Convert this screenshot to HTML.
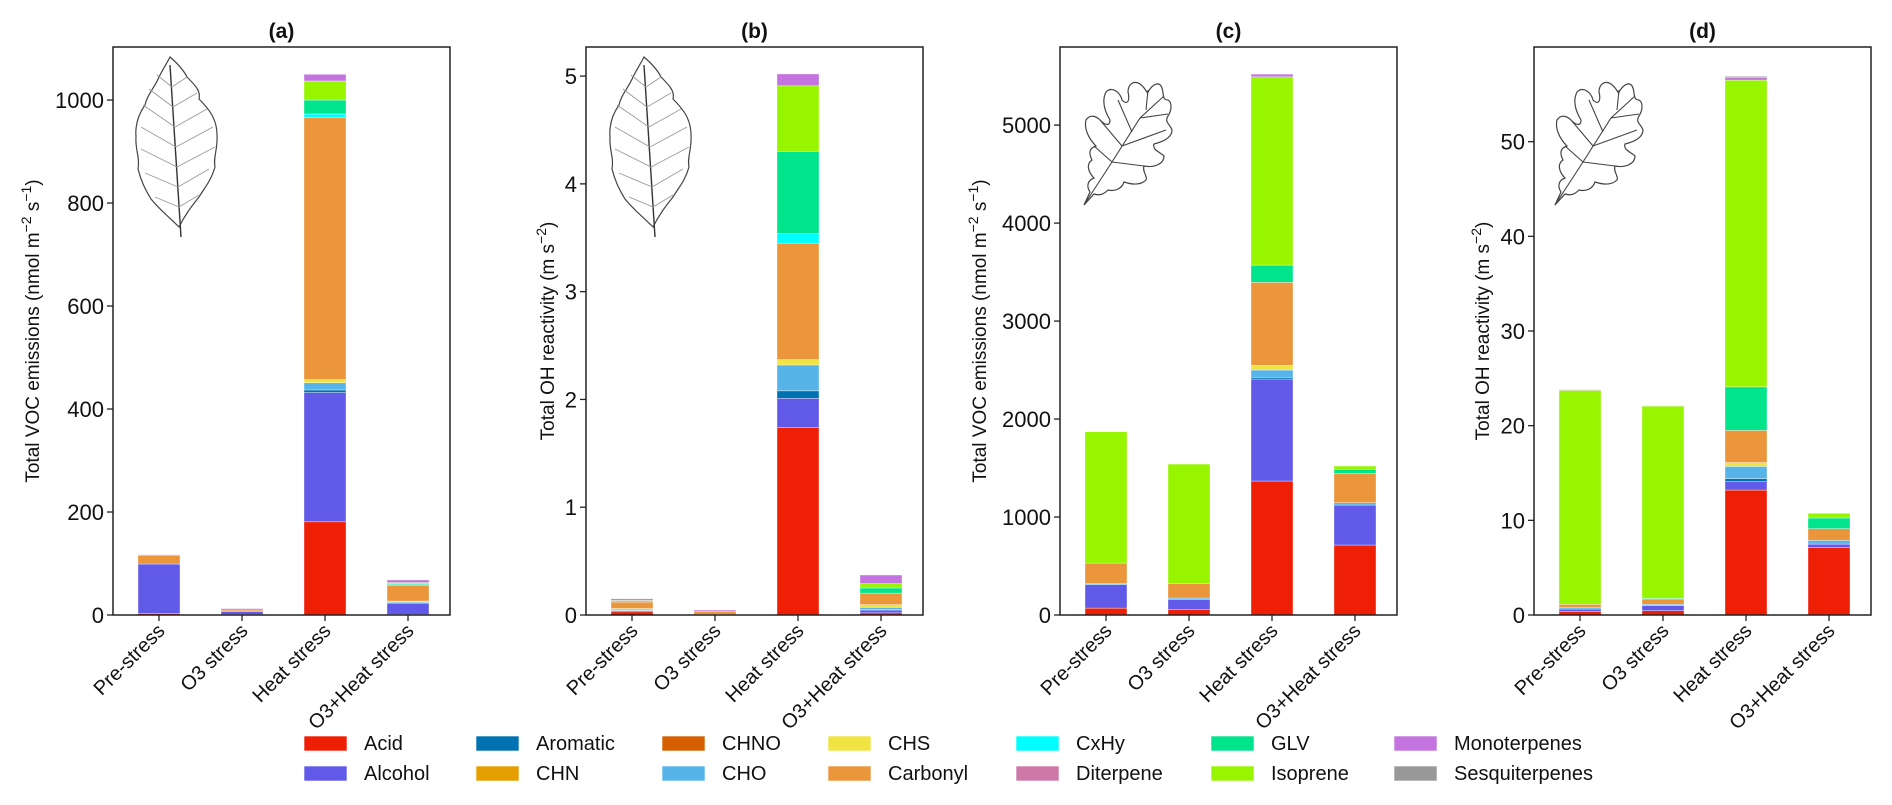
<!DOCTYPE html>
<html><head><meta charset="utf-8"><style>
html,body{margin:0;padding:0;background:#fff;}
svg{display:block;font-family:"Liberation Sans",Arial,sans-serif;}
</style></head><body>
<svg id="fig" width="1892" height="805" viewBox="0 0 1892 805" xmlns="http://www.w3.org/2000/svg">
<defs>
<g id="beech">
<path d="M35,0 C42,6 48,12 52,20 C60,28 66,34 64,42 C74,52 82,62 82,78 C83,92 78,100 80,110 C76,124 70,130 64,140 C56,150 50,158 44,170 C34,160 24,152 16,142 C10,132 6,124 3,112 C5,100 0,92 1,80 C0,68 3,58 10,48 C12,38 20,30 24,20 C28,12 32,6 35,0 Z" fill="none" stroke="#444" stroke-width="1.2"/>
<path d="M35,8 C38,50 42,110 46,180" fill="none" stroke="#333" stroke-width="1.4"/>
<path d="M37,30 L22,18 M37,30 L52,20 M38,50 L14,32 M38,50 L62,36 M40,70 L8,48 M40,70 L72,52 M41,90 L6,70 M41,90 L78,70 M42,110 L6,92 M42,110 L80,90 M43,130 L10,116 M43,130 L74,112 M44,150 L20,140 M44,150 L64,138" stroke="#999" stroke-width="0.9" fill="none"/>
</g>
<g id="oak">
<path d="M2,125 L8,112 C4,106 6,100 12,98 C6,92 4,84 10,80 C6,72 8,68 14,66 C6,58 2,48 4,40 C8,34 14,36 18,40 C24,46 28,46 28,40 C22,30 20,20 24,12 C30,6 38,12 40,20 C46,26 48,20 46,12 C46,4 52,0 58,4 C64,8 66,16 66,12 C72,2 78,2 80,8 C82,14 80,20 86,20 C90,22 90,30 86,36 C82,42 88,44 90,50 C90,58 80,62 72,64 C70,70 78,72 82,76 C82,84 72,88 62,86 C60,92 66,96 64,100 C58,106 48,104 42,102 C40,108 34,112 26,110 C22,114 18,116 12,114 Z" fill="none" stroke="#444" stroke-width="1.2"/>
<path d="M2,125 L30,82 L58,38 L82,16 M30,82 L12,66 M30,82 L62,86 M40,66 L18,40 M40,66 L84,50 M50,52 L36,20 M58,38 L86,34 M64,30 L66,10" fill="none" stroke="#444" stroke-width="1.1"/>
</g>
</defs>
<g id="panels"></g>
<g id="legend"></g>
</svg>
<script>
// ---- data ----
const categories = ["Pre-stress","O3 stress","Heat stress","O3+Heat stress"];
const classes = ["Acid","Alcohol","Aromatic","CHN","CHNO","CHO","CHS","Carbonyl","CxHy","Diterpene","GLV","Isoprene","Monoterpenes","Sesquiterpenes"];
const colors = ["#ef1f05","#615ae8","#0072b2","#e69f00","#d55e00","#56b4e9","#f0e442","#eb963b","#00ffff","#cc79a7","#00e48c","#97f500","#c374de","#999999"];
// values per class, per category [Pre, O3, Heat, O3+Heat]
// panel (a) beech VOC emissions
const aAcid=[3,1,181,1], aAlcohol=[96,6,251,22], aAromatic=[0,0,5,0], aCHN=[0,0,0,0], aCHNO=[0,0,0,0], aCHO=[0,1,14,2], aCHS=[0,0,6,2], aCarbonyl=[17,4,509,31], aCxHy=[0,0,7,1], aDiterpene=[0,0,0,0], aGLV=[0,0,27,2], aIsoprene=[0,0,37,2], aMono=[1,1,13,5], aSesq=[0,0,0,0];
// panel (b) beech OH reactivity
const bAcid=[0.03,0.005,1.74,0.02], bAlcohol=[0.01,0,0.27,0.026], bAromatic=[0.005,0,0.07,0.005], bCHN=[0,0,0,0], bCHNO=[0,0,0,0], bCHO=[0.01,0,0.24,0.02], bCHS=[0.005,0,0.05,0.025], bCarbonyl=[0.06,0.03,1.08,0.107], bCxHy=[0,0,0.09,0], bDiterpene=[0,0,0,0], bGLV=[0.01,0,0.76,0.048], bIsoprene=[0.005,0,0.61,0.04], bMono=[0.015,0.011,0.11,0.08], bSesq=[0,0,0,0];
// panel (c) oak VOC emissions
const cAcid=[70,58,1367,714], cAlcohol=[240,102,1041,408], cAromatic=[0,0,17,0], cCHN=[0,0,0,0], cCHNO=[0,0,0,0], cCHO=[10,13,75,24], cCHS=[0,0,48,0], cCarbonyl=[210,150,847,300], cCxHy=[0,0,0,0], cDiterpene=[0,0,0,0], cGLV=[0,0,176,41], cIsoprene=[1340,1217,1922,33], cMono=[0,0,27,0], cSesq=[0,0,0,0];
// panel (d) oak OH reactivity
const dAcid=[0.35,0.46,13.2,7.14], dAlcohol=[0.28,0.53,0.9,0.35], dAromatic=[0,0,0.3,0], dCHN=[0,0,0,0], dCHNO=[0,0,0,0], dCHO=[0.14,0.14,1.3,0.39], dCHS=[0,0,0.4,0], dCarbonyl=[0.36,0.56,3.4,1.24], dCxHy=[0,0,0,0], dDiterpene=[0,0,0,0], dGLV=[0,0.08,4.6,1.13], dIsoprene=[22.6,20.3,32.4,0.49], dMono=[0.07,0.03,0.3,0], dSesq=[0,0,0.1,0];
const aTicks=[0,200,400,600,800,1000], bTicks=[0,1,2,3,4,5], cTicks=[0,1000,2000,3000,4000,5000], dTicks=[0,10,20,30,40,50];
const aMax=1103, bMax=5.27, cMax=5797, dMax=60.0;

const NS="http://www.w3.org/2000/svg";
function el(tag,attrs,parent,text){const e=document.createElementNS(NS,tag);for(const k in attrs)e.setAttribute(k,attrs[k]);if(text!==undefined)e.textContent=text;parent.appendChild(e);return e;}

const panels=[
 {id:"a",title:"(a)",series:[aAcid,aAlcohol,aAromatic,aCHN,aCHNO,aCHO,aCHS,aCarbonyl,aCxHy,aDiterpene,aGLV,aIsoprene,aMono,aSesq],ticks:aTicks,ymax:aMax,ylab:'Total VOC emissions (nmol m<tspan baseline-shift="super" font-size="14">−2</tspan> s<tspan baseline-shift="super" font-size="14">−1</tspan>)',labOff:81,leaf:"beech",lx:135,ly:57},
 {id:"b",title:"(b)",series:[bAcid,bAlcohol,bAromatic,bCHN,bCHNO,bCHO,bCHS,bCarbonyl,bCxHy,bDiterpene,bGLV,bIsoprene,bMono,bSesq],ticks:bTicks,ymax:bMax,ylab:'Total OH reactivity (m s<tspan baseline-shift="super" font-size="14">−2</tspan>)',labOff:39,leaf:"beech",lx:609,ly:57},
 {id:"c",title:"(c)",series:[cAcid,cAlcohol,cAromatic,cCHN,cCHNO,cCHO,cCHS,cCarbonyl,cCxHy,cDiterpene,cGLV,cIsoprene,cMono,cSesq],ticks:cTicks,ymax:cMax,ylab:'Total VOC emissions (nmol m<tspan baseline-shift="super" font-size="14">−2</tspan> s<tspan baseline-shift="super" font-size="14">−1</tspan>)',labOff:81,leaf:"oak",lx:1082,ly:80},
 {id:"d",title:"(d)",series:[dAcid,dAlcohol,dAromatic,dCHN,dCHNO,dCHO,dCHS,dCarbonyl,dCxHy,dDiterpene,dGLV,dIsoprene,dMono,dSesq],ticks:dTicks,ymax:dMax,ylab:'Total OH reactivity (m s<tspan baseline-shift="super" font-size="14">−2</tspan>)',labOff:52,leaf:"oak",lx:1553,ly:80}
];
const lefts=[113,586,1060,1534], W=337, TOP=47, BOT=615;
const root=document.getElementById("panels");
panels.forEach((p,pi)=>{
  const L=lefts[pi];
  const g=el("g",{},root);
  
  
  const xs=i=>L+46+i*83;
  const ys=v=>BOT-(v/p.ymax)*(BOT-TOP);
  const lg=el("use",{href:"#"+p.leaf,x:p.lx,y:p.ly},g);
  
  
  categories.forEach((c,ci)=>{
    let acc=0;
    p.series.forEach((s,si)=>{
      const v=s[ci]; if(!v) return;
      const y0=ys(acc), y1=ys(acc+v); acc+=v;
      const r=el("rect",{x:xs(ci)-21,y:y1,width:42,height:Math.max(0,y0-y1),fill:colors[si],stroke:"#fff","stroke-width":0.6,"stroke-opacity":0.6},g);
      
      
    });
    el("line",{x1:xs(ci),x2:xs(ci),y1:BOT,y2:BOT+6,stroke:"#222","stroke-width":1.3},g);
    const t=el("text",{x:0,y:0,"font-size":20,"text-anchor":"end",fill:"#111",transform:`translate(${xs(ci)+7},${BOT+17}) rotate(-45)`},g,c);
    
    
  });
  p.ticks.forEach(tv=>{
    const y=ys(tv);
    el("line",{x1:L-6,x2:L,y1:y,y2:y,stroke:"#222","stroke-width":1.3},g);
    const t=el("text",{x:L-9,y:y+8,"font-size":22,"text-anchor":"end",fill:"#111"},g,String(tv));
    
    
  });
  const fr=el("rect",{x:L,y:TOP,width:W,height:BOT-TOP,fill:"none",stroke:"#222","stroke-width":1.5},g);
  
  
  const tt=el("text",{x:L+W/2,y:38,"font-size":21,"font-weight":"bold","text-anchor":"middle",fill:"#111"},g,p.title);
  
  
  const yl=el("text",{x:0,y:0,"font-size":19,"text-anchor":"middle",fill:"#111",transform:`translate(${L-p.labOff+7},${(TOP+BOT)/2}) rotate(-90)`},g);
  yl.innerHTML=p.ylab;
  
  
});
// legend
const leg=document.getElementById("legend");
const colX=[304,476,662,828,1016,1211,1394];
const rowY=[743,773];
classes.forEach((c,i)=>{
  const col=Math.floor(i/2), row=i%2;
  const g=el("g",{},leg);
  
  
  el("rect",{x:colX[col],y:rowY[row]-7,width:43,height:15,fill:colors[i],stroke:"#fff","stroke-width":0.6},g);
  el("text",{x:colX[col]+60,y:rowY[row]+7,"font-size":20,fill:"#111"},g,c);
});
</script>
</body></html>
